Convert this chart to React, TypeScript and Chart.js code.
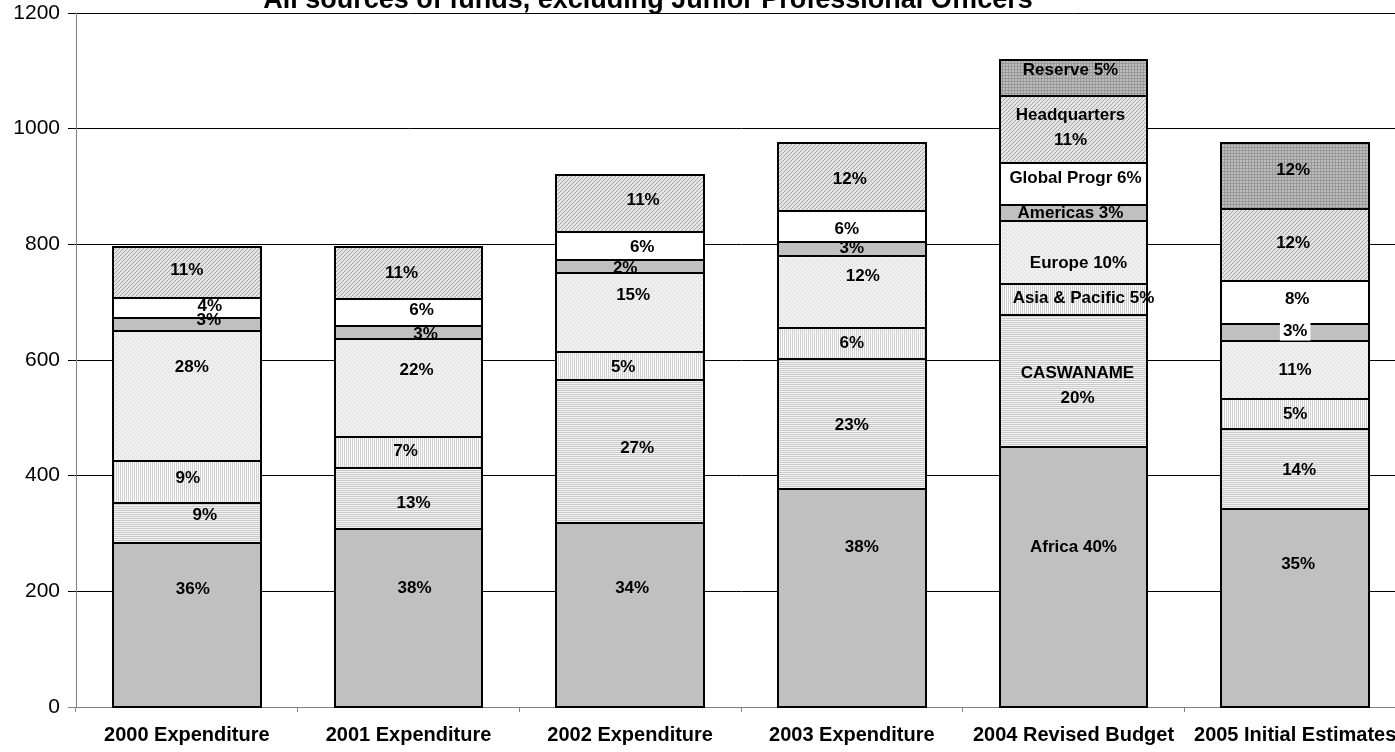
import React, { useEffect, useRef } from 'react';
import { Chart, registerables } from 'chart.js';

Chart.register(...registerables);

const categories = [
  '2000 Expenditure',
  '2001 Expenditure',
  '2002 Expenditure',
  '2003 Expenditure',
  '2004 Revised Budget',
  '2005 Initial Estimates',
];

const seriesNames = ['Africa', 'CASWANAME', 'Asia & Pacific', 'Europe', 'Americas', 'Global Progr', 'Headquarters', 'Reserve'];

const africa = [283, 308, 318, 377, 450, 342];
const caswaname = [70, 106, 247, 225, 228, 138];
const asiaPacific = [73, 52, 48, 54, 53, 52];
const europe = [225, 171, 138, 123, 110, 101];
const americas = [22, 22, 22, 25, 27, 29];
const globalProgr = [34, 47, 49, 54, 72, 75];
const headquarters = [89, 89, 98, 117, 117, 124];
const reserve = [0, 0, 0, 0, 62, 114];

const pctAfrica = [36, 38, 34, 38, 40, 35];
const pctCaswaname = [9, 13, 27, 23, 20, 14];
const pctAsiaPacific = [9, 7, 5, 6, 5, 5];
const pctEurope = [28, 22, 15, 12, 10, 11];
const pctAmericas = [3, 3, 2, 3, 3, 3];
const pctGlobal = [4, 6, 6, 6, 6, 8];
const pctHeadquarters = [11, 11, 11, 12, 11, 12];
const pctReserve = [0, 0, 0, 0, 5, 12];

const yTicks = [0, 200, 400, 600, 800, 1000, 1200];

const titleText = 'All sources of funds, excluding Junior Professional Officers';

// category whose labels carry the series name
const namedCategory = 4;
const twoLineSeries = [1, 6];

// label nudges in px [dx, dy], keyed "series-category"
const labelNudge: Record<string, [number, number]> = {
  '0-0': [6, -36], '0-1': [6, -29], '0-2': [2, -26], '0-3': [10, -50], '0-4': [0, -29], '0-5': [3, -44],
  '1-0': [18, -8], '1-1': [5, 5], '1-2': [7, -3], '1-3': [0, 1], '1-4': [4, 5], '1-5': [4, 1],
  '2-0': [1, -3], '2-1': [-3, -1], '2-2': [-7, 1], '2-4': [10, -1],
  '3-0': [5, -28], '3-1': [8, -18], '3-2': [3, -17], '3-3': [11, -16], '3-4': [5, 11],
  '4-0': [22, -4], '4-1': [17, 2], '4-2': [-5, 2], '4-3': [0, -1], '4-4': [-3, 0], '4-5': [0, -1],
  '5-0': [23, -2], '5-1': [13, -2], '5-2': [12, 2], '5-3': [-5, 3], '5-4': [2, -6], '5-5': [2, -3],
  '6-0': [0, -2], '6-1': [-7, 0], '6-2': [13, -3], '6-3': [-2, 2], '6-4': [-3, -2], '6-5': [-2, -2],
  '7-4': [-3, -7], '7-5': [-2, -6],
};
const labelWithBg = ['4-5'];

function tile(ctx: CanvasRenderingContext2D, w: number, h: number, draw: (c: CanvasRenderingContext2D) => void) {
  const c = document.createElement('canvas');
  c.width = w;
  c.height = h;
  const t = c.getContext('2d') as CanvasRenderingContext2D;
  draw(t);
  return ctx.createPattern(c, 'repeat') as CanvasPattern;
}

export default function App() {
  const ref = useRef<HTMLCanvasElement | null>(null);

  useEffect(() => {
    const canvas = ref.current;
    if (!canvas) return;
    const ctx = canvas.getContext('2d') as CanvasRenderingContext2D;

    const solidGray = '#c0c0c0';
    const horiz = tile(ctx, 2, 2, (t) => {
      t.fillStyle = '#f2f2f2'; t.fillRect(0, 0, 2, 2);
      t.fillStyle = '#cacaca'; t.fillRect(0, 0, 2, 1);
    });
    const vert = tile(ctx, 2, 2, (t) => {
      t.fillStyle = '#fbfbfb'; t.fillRect(0, 0, 2, 2);
      t.fillStyle = '#d0d0d0'; t.fillRect(0, 0, 1, 2);
    });
    const dots = tile(ctx, 4, 4, (t) => {
      t.fillStyle = '#efefef'; t.fillRect(0, 0, 4, 4);
      t.fillStyle = '#d6d6d6'; t.fillRect(0, 0, 1, 1); t.fillRect(2, 2, 1, 1);
    });
    const diag = tile(ctx, 4, 4, (t) => {
      t.fillStyle = '#e4e4e4'; t.fillRect(0, 0, 4, 4);
      t.fillStyle = '#a8a8a8';
      for (let i = 0; i < 4; i++) t.fillRect(i, 3 - i, 1, 1);
    });
    const grid = tile(ctx, 3, 3, (t) => {
      t.fillStyle = '#bdbdbd'; t.fillRect(0, 0, 3, 3);
      t.fillStyle = '#989898'; t.fillRect(0, 0, 3, 1); t.fillRect(0, 0, 1, 3);
    });

    const values = [africa, caswaname, asiaPacific, europe, americas, globalProgr, headquarters, reserve];
    const pcts = [pctAfrica, pctCaswaname, pctAsiaPacific, pctEurope, pctAmericas, pctGlobal, pctHeadquarters, pctReserve];
    const fills: (string | CanvasPattern)[] = [solidGray, horiz, vert, dots, solidGray, '#ffffff', diag, grid];

    const datasets = values.map((v, i) => ({
      label: seriesNames[i],
      data: v,
      backgroundColor: fills[i],
      borderWidth: 0,
      categoryPercentage: 1,
      barPercentage: 0.667,
    }));

    // outline each segment with a 2px black line centred on its edges
    const outlinePlugin = {
      id: 'segOutline',
      afterDatasetsDraw(chart: any) {
        const c = chart.ctx as CanvasRenderingContext2D;
        c.save();
        c.strokeStyle = '#000';
        c.lineWidth = 2;
        values.forEach((v, si) => {
          const meta = chart.getDatasetMeta(si);
          meta.data.forEach((el: any, ci: number) => {
            if (!v[ci]) return;
            const p = el.getProps(['x', 'y', 'base', 'width'], true);
            const l = Math.round(p.x - p.width / 2);
            const r = Math.round(p.x + p.width / 2);
            const t = Math.round(Math.min(p.y, p.base));
            const b = Math.round(Math.max(p.y, p.base));
            c.strokeRect(l, t, r - l, b - t);
          });
        });
        c.restore();
      },
    };

    const labelPlugin = {
      id: 'segLabels',
      afterDatasetsDraw(chart: any) {
        const c = chart.ctx as CanvasRenderingContext2D;
        c.save();
        c.font = 'bold 17px "Liberation Sans", Arial, sans-serif';
        c.textAlign = 'center';
        c.textBaseline = 'middle';
        c.fillStyle = '#000';
        values.forEach((v, si) => {
          const meta = chart.getDatasetMeta(si);
          meta.data.forEach((el: any, ci: number) => {
            if (!v[ci]) return;
            const p = el.getProps(['x', 'y', 'base'], true);
            const key = `${si}-${ci}`;
            const [dx, dy] = labelNudge[key] || [0, 0];
            const cx = p.x + dx;
            const cy = (p.y + p.base) / 2 + dy;
            const pct = `${pcts[si][ci]}%`;
            let lines: string[];
            if (ci === namedCategory) {
              lines = twoLineSeries.includes(si) ? [seriesNames[si], pct] : [`${seriesNames[si]} ${pct}`];
            } else {
              lines = [pct];
            }
            if (labelWithBg.includes(key)) {
              const w = c.measureText(lines[0]).width + 6;
              c.fillStyle = '#ffffff';
              c.fillRect(cx - w / 2, cy - 9, w, 18);
              c.fillStyle = '#000';
            }
            const lh = 25;
            lines.forEach((ln, li) => {
              c.fillText(ln, cx, cy + (li - (lines.length - 1) / 2) * lh);
            });
          });
        });
        c.restore();
      },
    };

    const titlePlugin = {
      id: 'cutTitle',
      afterDraw(chart: any) {
        const c = chart.ctx as CanvasRenderingContext2D;
        c.save();
        c.font = 'bold 27px "Liberation Sans", Arial, sans-serif';
        c.textAlign = 'center';
        c.textBaseline = 'alphabetic';
        c.fillStyle = '#000';
        c.fillText(titleText, 648, 8);
        c.restore();
      },
    };

    const chart = new Chart(canvas, {
      type: 'bar',
      data: { labels: categories, datasets },
      plugins: [outlinePlugin, labelPlugin, titlePlugin],
      options: {
        responsive: false,
        animation: false,
        layout: { padding: { left: 0, right: 6, top: 13, bottom: 0 } },
        plugins: {
          legend: { display: false },
          title: { display: false },
          tooltip: { enabled: false },
        },
        scales: {
          x: {
            stacked: true,
            offset: true,
            grid: {
              display: true,
              drawOnChartArea: false,
              drawTicks: true,
              tickLength: 5,
              color: '#808080',
              offset: true,
            },
            border: { display: true, color: '#808080', width: 1 },
            ticks: {
              color: '#000',
              font: { family: '"Liberation Sans", Arial, sans-serif', size: 20, weight: 'bold' },
              maxRotation: 0,
              minRotation: 0,
              autoSkip: false,
              padding: 11,
            },
            afterFit(scale: any) {
              scale.height = 45;
              scale.paddingLeft = 0;
              scale.paddingRight = 0;
            },
          },
          y: {
            stacked: true,
            min: 0,
            max: 1200,
            afterBuildTicks(scale: any) {
              scale.ticks = yTicks.map((v) => ({ value: v }));
            },
            grid: {
              color: (c: any) => (c.tick && c.tick.value === 0 ? '#808080' : '#000000'),
              lineWidth: 1,
              tickLength: 8,
              drawTicks: true,
            },
            border: { display: true, color: '#808080', width: 1 },
            ticks: {
              color: '#000',
              font: { family: '"Liberation Sans", Arial, sans-serif', size: 21 },
              padding: 8,
              callback: (v: any) => String(v),
            },
            afterFit(scale: any) {
              scale.width = 76;
              scale.paddingTop = 0;
              scale.paddingBottom = 0;
            },
          },
        },
      },
    });

    return () => chart.destroy();
  }, []);

  return (
    <div style={{ position: 'fixed', left: 0, top: 0, width: 1395, height: 752, overflow: 'hidden', background: '#fff' }}>
      <canvas ref={ref} width={1412} height={752} style={{ display: 'block' }} />
    </div>
  );
}
